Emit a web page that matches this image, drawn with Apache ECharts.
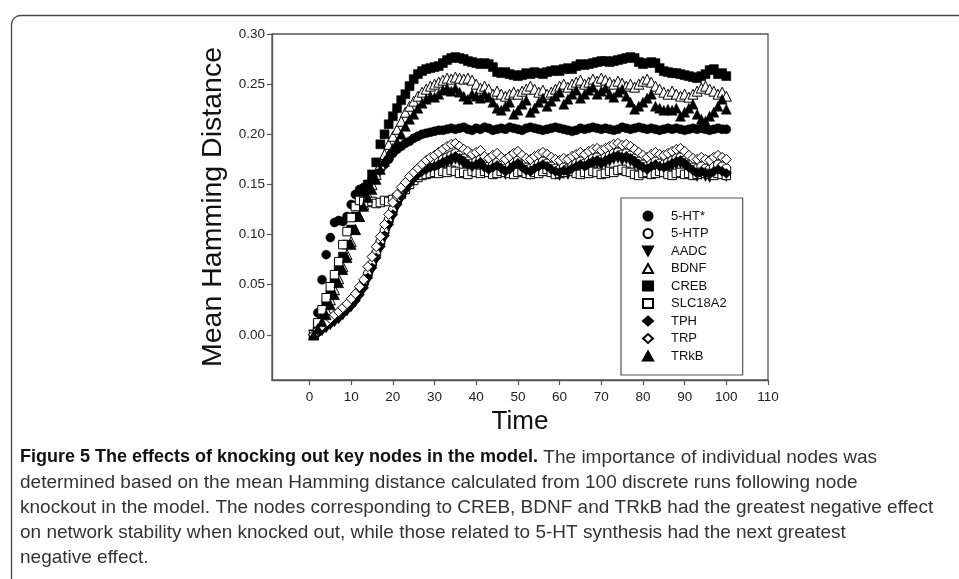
<!DOCTYPE html>
<html>
<head>
<meta charset="utf-8">
<script src="https://cdn.jsdelivr.net/npm/echarts@6/dist/echarts.min.js"></script>
<style>
html,body{margin:0;padding:0;background:#fff;}
#chart{width:959px;height:579px;}
</style>
</head>
<body>
<div id="chart"></div>
<script>
const times = [1,2,3,4,5,6,7,8,9,10,11,12,13,14,15,16,17,18,19,20,21,22,23,24,25,26,27,28,29,30,31,32,33,34,35,36,37,38,39,40,41,42,43,44,45,46,47,48,49,50,51,52,53,54,55,56,57,58,59,60,61,62,63,64,65,66,67,68,69,70,71,72,73,74,75,76,77,78,79,80,81,82,83,84,85,86,87,88,89,90,91,92,93,94,95,96,97,98,99,100];

const ht5 = [0.000,0.022,0.055,0.080,0.097,0.112,0.114,0.113,0.118,0.130,
0.140,0.145,0.147,0.150,0.155,0.160,0.165,0.170,0.175,0.181,
0.185,0.188,0.191,0.193,0.196,0.198,0.200,0.201,0.202,0.203,
0.204,0.204,0.205,0.206,0.205,0.206,0.207,0.205,0.204,0.206,
0.205,0.207,0.206,0.204,0.205,0.206,0.205,0.207,0.206,0.205,
0.204,0.206,0.207,0.206,0.205,0.204,0.205,0.206,0.207,0.206,
0.205,0.204,0.203,0.204,0.206,0.205,0.206,0.207,0.206,0.205,
0.206,0.205,0.204,0.205,0.207,0.206,0.205,0.206,0.207,0.206,
0.205,0.206,0.205,0.204,0.205,0.206,0.205,0.206,0.205,0.204,
0.205,0.206,0.205,0.206,0.205,0.204,0.205,0.206,0.205,0.205];

const htp5 = [0.000,0.003,0.007,0.010,0.013,0.017,0.020,0.024,0.028,0.033,
0.038,0.044,0.051,0.061,0.071,0.082,0.093,0.104,0.115,0.125,
0.134,0.142,0.148,0.154,0.158,0.162,0.165,0.168,0.170,0.172,
0.173,0.175,0.177,0.179,0.181,0.179,0.176,0.173,0.171,0.173,
0.175,0.170,0.168,0.170,0.172,0.169,0.166,0.168,0.172,0.174,
0.170,0.167,0.166,0.169,0.171,0.173,0.171,0.168,0.166,0.165,
0.167,0.166,0.169,0.171,0.173,0.171,0.174,0.176,0.177,0.175,
0.177,0.179,0.181,0.182,0.180,0.181,0.179,0.176,0.173,0.170,
0.168,0.171,0.173,0.171,0.170,0.172,0.174,0.176,0.177,0.174,
0.170,0.167,0.166,0.168,0.166,0.165,0.168,0.170,0.168,0.166];

const aadc = [0.000,0.002,0.004,0.007,0.010,0.013,0.016,0.020,0.024,0.028,
0.033,0.039,0.046,0.055,0.065,0.075,0.086,0.097,0.108,0.118,
0.128,0.136,0.143,0.149,0.154,0.158,0.161,0.163,0.165,0.166,
0.167,0.169,0.171,0.173,0.175,0.173,0.170,0.167,0.165,0.167,
0.169,0.164,0.162,0.164,0.166,0.163,0.160,0.162,0.166,0.168,
0.164,0.161,0.160,0.163,0.165,0.167,0.165,0.162,0.160,0.159,
0.161,0.160,0.163,0.165,0.167,0.165,0.168,0.170,0.171,0.169,
0.171,0.173,0.175,0.176,0.174,0.175,0.173,0.170,0.167,0.164,
0.162,0.165,0.167,0.165,0.164,0.166,0.168,0.170,0.171,0.168,
0.164,0.161,0.158,0.160,0.158,0.157,0.160,0.162,0.160,0.158];

const bdnf = [0.000,0.008,0.016,0.025,0.035,0.045,0.056,0.068,0.080,0.093,
0.105,0.118,0.130,0.140,0.150,0.160,0.170,0.180,0.190,0.198,
0.205,0.213,0.222,0.228,0.233,0.238,0.242,0.245,0.248,0.250,
0.252,0.254,0.256,0.255,0.257,0.256,0.255,0.256,0.254,0.250,
0.246,0.248,0.245,0.240,0.243,0.240,0.238,0.240,0.242,0.240,
0.243,0.245,0.248,0.245,0.242,0.244,0.240,0.242,0.245,0.248,
0.250,0.247,0.250,0.252,0.254,0.250,0.252,0.255,0.253,0.256,
0.254,0.252,0.250,0.253,0.251,0.248,0.250,0.247,0.250,0.253,
0.255,0.252,0.248,0.245,0.242,0.240,0.243,0.240,0.238,0.240,
0.237,0.240,0.243,0.246,0.248,0.245,0.243,0.240,0.242,0.238];

const creb = [0.000,0.010,0.020,0.030,0.040,0.052,0.065,0.078,0.090,0.105,
0.118,0.130,0.140,0.150,0.160,0.172,0.190,0.200,0.210,0.218,
0.226,0.234,0.240,0.248,0.255,0.260,0.263,0.265,0.266,0.267,
0.268,0.271,0.274,0.276,0.277,0.276,0.275,0.273,0.272,0.271,
0.270,0.271,0.270,0.267,0.262,0.261,0.262,0.260,0.259,0.258,
0.259,0.261,0.260,0.262,0.261,0.260,0.262,0.263,0.264,0.263,
0.265,0.266,0.265,0.268,0.270,0.269,0.270,0.271,0.272,0.273,
0.273,0.272,0.273,0.274,0.275,0.276,0.277,0.276,0.272,0.270,
0.271,0.272,0.271,0.266,0.263,0.262,0.261,0.261,0.260,0.259,
0.258,0.257,0.256,0.258,0.260,0.264,0.265,0.260,0.261,0.258];

const slc18a2 = [0.000,0.012,0.025,0.037,0.048,0.060,0.073,0.090,0.103,0.117,
0.128,0.134,0.133,0.132,0.133,0.131,0.132,0.134,0.133,0.135,
0.137,0.140,0.145,0.150,0.154,0.157,0.159,0.160,0.161,0.162,
0.161,0.163,0.162,0.164,0.163,0.161,0.162,0.160,0.163,0.162,
0.161,0.163,0.162,0.160,0.161,0.163,0.162,0.161,0.160,0.162,
0.163,0.161,0.160,0.162,0.161,0.163,0.165,0.162,0.160,0.161,
0.162,0.164,0.163,0.161,0.160,0.162,0.161,0.163,0.162,0.160,
0.161,0.163,0.162,0.164,0.165,0.163,0.162,0.160,0.159,0.161,
0.162,0.160,0.161,0.163,0.162,0.160,0.159,0.161,0.162,0.160,
0.161,0.159,0.160,0.162,0.161,0.160,0.159,0.161,0.160,0.159];

const tph = [0.000,0.002,0.005,0.008,0.011,0.014,0.017,0.021,0.025,0.029,
0.034,0.040,0.047,0.057,0.067,0.077,0.088,0.099,0.110,0.120,
0.130,0.138,0.145,0.151,0.156,0.160,0.163,0.165,0.167,0.168,
0.170,0.172,0.174,0.176,0.178,0.176,0.173,0.170,0.168,0.170,
0.172,0.167,0.165,0.167,0.169,0.166,0.163,0.165,0.169,0.171,
0.167,0.164,0.163,0.166,0.168,0.170,0.168,0.165,0.163,0.162,
0.164,0.163,0.166,0.168,0.170,0.168,0.171,0.173,0.174,0.172,
0.174,0.176,0.178,0.179,0.177,0.178,0.176,0.173,0.170,0.167,
0.165,0.168,0.170,0.168,0.167,0.169,0.171,0.173,0.174,0.171,
0.167,0.164,0.161,0.163,0.161,0.160,0.163,0.165,0.163,0.161];

const trp = [0.000,0.005,0.009,0.012,0.016,0.020,0.023,0.027,0.031,0.036,
0.041,0.048,0.055,0.068,0.078,0.088,0.098,0.110,0.120,0.132,
0.140,0.147,0.152,0.158,0.162,0.166,0.170,0.174,0.177,0.179,
0.182,0.185,0.188,0.190,0.191,0.188,0.185,0.183,0.180,0.182,
0.184,0.178,0.176,0.179,0.181,0.177,0.175,0.178,0.181,0.183,
0.179,0.176,0.175,0.178,0.180,0.182,0.180,0.177,0.175,0.174,
0.176,0.175,0.178,0.180,0.182,0.180,0.183,0.185,0.186,0.184,
0.186,0.188,0.190,0.191,0.189,0.190,0.188,0.185,0.182,0.179,
0.177,0.180,0.182,0.180,0.179,0.181,0.183,0.185,0.186,0.183,
0.179,0.176,0.175,0.177,0.175,0.174,0.177,0.179,0.177,0.175];

const trkb = [0.000,0.006,0.013,0.020,0.030,0.040,0.052,0.065,0.077,0.090,
0.105,0.118,0.128,0.137,0.145,0.155,0.165,0.173,0.180,0.186,
0.192,0.200,0.208,0.215,0.220,0.226,0.231,0.235,0.238,0.237,
0.240,0.244,0.246,0.243,0.246,0.242,0.238,0.235,0.240,0.238,
0.236,0.240,0.237,0.232,0.226,0.224,0.228,0.232,0.220,0.224,
0.230,0.234,0.222,0.226,0.232,0.236,0.228,0.233,0.238,0.242,
0.230,0.235,0.240,0.244,0.236,0.240,0.244,0.247,0.240,0.243,
0.246,0.240,0.237,0.242,0.245,0.238,0.232,0.225,0.228,0.232,
0.236,0.240,0.228,0.226,0.224,0.225,0.224,0.226,0.218,0.222,
0.226,0.230,0.220,0.215,0.213,0.218,0.222,0.228,0.235,0.225];

const xTicks = [0,10,20,30,40,50,60,70,80,90,100,110];
const yTicks = [0,0.05,0.10,0.15,0.20,0.25,0.30];

const seriesNames = ['5-HT*','5-HTP','AADC','BDNF','CREB','SLC18A2','TPH','TRP','TRkB'];
const seriesData = [ht5, htp5, aadc, bdnf, creb, slc18a2, tph, trp, trkb];
const seriesSymbols = ['circle','circle','triangle','triangle','rect','rect','diamond','diamond','triangle'];
const seriesFilled = [true,false,true,false,true,false,true,false,true];
const seriesRotate = [0,0,180,0,0,0,0,0,0];
const seriesSize = [9,9,10,10,9,8.5,10,10,10];
const downTriangleIcon = 'path://M0,0 L10,0 L5,9 Z';

const chart = echarts.init(document.getElementById('chart'), null, {renderer:'canvas'});

const series = seriesNames.map((name, i) => ({
  name: name,
  type: 'scatter',
  data: times.map((t, k) => [t, seriesData[i][k]]),
  symbol: seriesSymbols[i],
  symbolSize: seriesSize[i],
  symbolRotate: seriesRotate[i],
  itemStyle: seriesFilled[i]
    ? {color: '#000', borderColor: '#000', borderWidth: 0.5, opacity: 1}
    : {color: '#fff', borderColor: '#000', borderWidth: 1, opacity: 1},
  emphasis: {disabled: true},
  z: 2 + i
}));

const legendData = seriesNames.map((name, i) =>
  seriesRotate[i] === 180 ? {name: name, icon: downTriangleIcon} : {name: name});

const caption = '{b|Figure 5 The effects of knocking out key nodes in the model.} The importance of individual nodes was\n' +
  'determined based on the mean Hamming distance calculated from 100 discrete runs following node\n' +
  'knockout in the model. The nodes corresponding to CREB, BDNF and TRkB had the greatest negative effect\n' +
  'on network stability when knocked out, while those related to 5-HT synthesis had the next greatest\n' +
  'negative effect.';

const option = {
  backgroundColor: '#fff',
  animation: false,
  grid: {left: 272, top: 34, right: 191, bottom: 199, show: true, borderColor: '#555', borderWidth: 1.3, backgroundColor: 'transparent'},
  xAxis: {
    type: 'value', min: -9, max: 110,
    name: 'Time', nameLocation: 'middle', nameGap: 28,
    nameTextStyle: {fontFamily: 'Liberation Sans, Arial, sans-serif', fontSize: 26, color: '#111'},
    axisLine: {show: true, onZero: false, lineStyle: {color: '#555', width: 1.3}},
    axisTick: {show: true, inside: false, length: 5, customValues: xTicks, lineStyle: {color: '#555', width: 1.2}},
    axisLabel: {customValues: xTicks, margin: 10, fontFamily: 'Liberation Sans, Arial, sans-serif', fontSize: 13.5, color: '#222'},
    splitLine: {show: false}
  },
  yAxis: {
    type: 'value', min: -0.045, max: 0.30,
    name: 'Mean Hamming Distance', nameLocation: 'middle', nameGap: 35,
    nameTextStyle: {fontFamily: 'Liberation Sans, Arial, sans-serif', fontSize: 28.5, color: '#111'},
    axisLine: {show: true, onZero: false, lineStyle: {color: '#555', width: 1.3}},
    axisTick: {show: true, inside: false, length: 5, customValues: yTicks, lineStyle: {color: '#555', width: 1.2}},
    axisLabel: {customValues: yTicks, margin: 7, fontFamily: 'Liberation Sans, Arial, sans-serif', fontSize: 13.5, color: '#222',
      formatter: v => v.toFixed(2)},
    splitLine: {show: false}
  },
  legend: {
    orient: 'vertical', left: 621, top: 198,
    data: legendData,
    itemWidth: 10, itemHeight: 9, itemGap: 3.5,
    symbolKeepAspect: true,
    padding: [11, 16, 12, 21],
    borderColor: '#555', borderWidth: 1.2,
    textStyle: {fontFamily: 'Liberation Sans, Arial, sans-serif', fontSize: 13, color: '#111', lineHeight: 14, padding: [0,0,0,13]},
    selectedMode: false
  },
  graphic: [
    {type: 'rect', left: 9, top: 13, shape: {x: 0, y: 0, width: 1000, height: 700, r: 9},
      style: {fill: 'none', stroke: '#444', lineWidth: 1.3}, silent: true},
    {type: 'text', left: 20, top: 445,
      style: {text: caption, fontFamily: 'Liberation Sans, Arial, sans-serif', fontSize: 19, lineHeight: 25, fill: '#333',
        rich: {b: {fontFamily: 'Liberation Sans, Arial, sans-serif', fontWeight: 'bold', fontSize: 18, lineHeight: 25, fill: '#111'}}},
      silent: true}
  ],
  series: series
};
chart.setOption(option);
</script>
</body>
</html>
